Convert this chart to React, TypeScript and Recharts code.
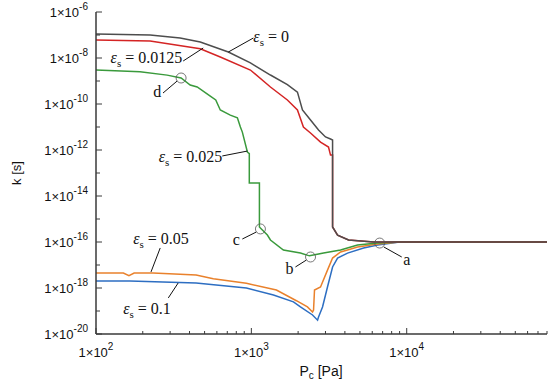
import React from "react";
import { LineChart, Line, XAxis, YAxis, ReferenceDot, ReferenceLine } from "recharts";

type Pt = [number, number];

// P_c [Pa], k [s]
const eps0: Pt[] = [
  [100, 1.1e-7], [223, 1e-7], [348, 7.4e-8], [469, 5e-8], [711, 1.82e-8],
  [986, 6.1e-9], [1327, 1.82e-9], [1706, 7e-10], [1980, 3.3e-10], [2133, 5.5e-11],
  [2404, 2e-11], [2707, 7.4e-12], [3001, 3.7e-12], [3233, 3e-12], [3333, 2.7e-12],
  [3333, 4.5e-16], [3589, 2e-16], [4224, 1.22e-16], [6125, 1e-16], [80000, 1e-16],
];

const eps0125: Pt[] = [
  [100, 6.1e-8], [223, 5.5e-8], [469, 2.5e-8], [631, 1.1e-8], [986, 3e-9],
  [1327, 5.5e-10], [1706, 1.5e-10], [1980, 5.5e-11], [2163, 1e-11], [2403, 5.5e-12],
  [2788, 2.2e-12], [3138, 1.35e-12], [3233, 6e-13], [3333, 6e-13], [3333, 4.5e-16],
  [3589, 2e-16], [4224, 1.22e-16], [6125, 1e-16], [80000, 1e-16],
];

const eps025: Pt[] = [
  [100, 3e-9], [192, 2.5e-9], [287, 1.8e-9], [353, 1.35e-9], [404, 6.7e-10],
  [448, 5.5e-10], [544, 2.2e-10], [590, 1.5e-10], [631, 5.5e-11], [732, 3.3e-11],
  [813, 2.5e-11], [850, 1e-11], [875, 6e-12], [943, 8.2e-13], [970, 7e-13],
  [970, 3.7e-14], [1127, 3.7e-14], [1127, 4.5e-16], [1160, 3.7e-16], [1268, 2e-16],
  [1327, 1.22e-16], [1608, 4.5e-17], [2070, 3.3e-17], [2367, 2.5e-17], [2916, 3.3e-17],
  [3752, 4.5e-17], [4826, 7.4e-17], [6500, 9e-17], [9000, 1e-16], [80000, 1e-16],
];

const eps05: Pt[] = [
  [100, 4.5e-18], [150, 4.5e-18], [163, 3.4e-18], [176, 4.5e-18], [233, 4.5e-18],
  [441, 3.7e-18], [569, 2.5e-18], [929, 1.6e-18], [1450, 8.2e-19], [1950, 2.8e-19],
  [2296, 1.5e-19], [2477, 9e-20], [2514, 1.1e-19], [2550, 8.2e-19], [2788, 1.1e-18],
  [3091, 6e-18], [3333, 2e-17], [3752, 3.7e-17], [4161, 4.5e-17], [4826, 6e-17],
  [6500, 8.2e-17], [9000, 1e-16], [80000, 1e-16],
];

const eps1: Pt[] = [
  [100, 2e-18], [165, 2e-18], [441, 1.65e-18], [929, 1e-18], [1388, 5e-19],
  [1866, 2.5e-19], [2070, 1.5e-19], [2477, 6.7e-20], [2668, 4e-20], [2707, 5.5e-20],
  [2872, 1.5e-19], [3091, 1.1e-18], [3333, 8.2e-18], [3589, 2e-17], [4161, 3.3e-17],
  [5279, 5.5e-17], [6500, 7.4e-17], [9000, 1e-16], [80000, 1e-16],
];

const xTicks = [
  100, 200, 300, 400, 500, 600, 700, 800, 900,
  1000, 2000, 3000, 4000, 5000, 6000, 7000, 8000, 9000,
  10000, 20000, 30000, 40000, 50000, 60000, 70000, 80000,
];
const xMajor = [100, 1000, 10000];
const yTicks = [
  1e-20, 1e-19, 1e-18, 1e-17, 1e-16, 1e-15, 1e-14, 1e-13,
  1e-12, 1e-11, 1e-10, 1e-9, 1e-8, 1e-7, 1e-6,
];

const epsLabels = [
  { x: 1030, y: 8.2e-8, anchor: "start", value: "0" },
  { x: 359, y: 1e-8, anchor: "end", value: "0.0125" },
  { x: 650, y: 5e-13, anchor: "end", value: "0.025" },
  { x: 262, y: 1.35e-16, anchor: "middle", value: "0.05" },
  { x: 213, y: 1.22e-19, anchor: "middle", value: "0.1" },
];
const pointLabels = [
  { x: 248, y: 3.3e-10, text: "d" },
  { x: 800, y: 1.22e-16, text: "c" },
  { x: 1757, y: 6.7e-18, text: "b" },
  { x: 10000, y: 1.65e-17, text: "a" },
];
const circles: Pt[] = [[353, 1.35e-9], [1144, 3.7e-16], [2404, 2.23e-17], [6700, 9e-17]];
const leaders: [Pt, Pt][] = [
  [[1030, 7.4e-8], [711, 1.82e-8]],
  [[364, 7.4e-9], [490, 2.72e-8]],
  [[270, 3e-10], [333, 1e-9]],
  [[650, 5.5e-13], [943, 9e-13]],
  [[259, 5.5e-17], [226, 5e-18]],
  [[292, 3.7e-19], [338, 1.65e-18]],
  [[875, 1.35e-16], [1077, 2.72e-16]],
  [[1922, 8.2e-18], [2264, 1.65e-17]],
  [[7114, 6.1e-17], [9290, 2.23e-17]],
];

const series = [
  { key: "0.1", pts: eps1, color: "#2d6ec2" },
  { key: "0.05", pts: eps05, color: "#e9812c" },
  { key: "0.025", pts: eps025, color: "#3a9a3c" },
  { key: "0.0125", pts: eps0125, color: "#d42424" },
  { key: "0", pts: eps0, color: "#4d4d4d" },
];

const axisColor = "#3a3a3a";
const sans = "'Liberation Sans', Arial, sans-serif";
const serif = "'Liberation Serif', 'Times New Roman', serif";

const expOf = (v: number) => Math.round(Math.log10(v));

const LeftTick = ({ x, y, payload }: any) => {
  const e = expOf(payload.value);
  const major = e % 2 === 0;
  return (
    <g>
      <line x1={x} x2={x + (major ? 6 : 4)} y1={y} y2={y} stroke={axisColor} />
      {major && (
        <text x={x - 8} y={y + 5} textAnchor="end" fontSize={13} fontFamily={sans} fill="#111">
          1×10<tspan dy={-7} fontSize={10}>{e}</tspan>
        </text>
      )}
    </g>
  );
};

const RightTick = ({ x, y, payload }: any) => {
  const major = expOf(payload.value) % 2 === 0;
  return <line x1={x} x2={x - (major ? 6 : 4)} y1={y} y2={y} stroke={axisColor} />;
};

const BottomTick = ({ x, y, payload }: any) => {
  const major = xMajor.includes(payload.value);
  return (
    <g>
      <line x1={x} x2={x} y1={y} y2={y - (major ? 6 : 3)} stroke={axisColor} />
      {major && (
        <text x={x} y={y + 23} textAnchor="middle" fontSize={13} fontFamily={sans} fill="#111">
          1×10<tspan dy={-7} fontSize={10}>{expOf(payload.value)}</tspan>
        </text>
      )}
    </g>
  );
};

const TopTick = ({ x, y, payload }: any) => {
  const major = xMajor.includes(payload.value);
  return <line x1={x} x2={x} y1={y} y2={y + (major ? 6 : 3)} stroke={axisColor} />;
};

const EpsText = ({ cx, cy, anchor, value }: any) => (
  <text x={cx} y={cy + 5} textAnchor={anchor} fontSize={16} fontFamily={serif} fill="#111">
    <tspan fontStyle="italic">ε</tspan>
    <tspan fontSize={11} dy={4}>s</tspan>
    <tspan dy={-4}>{" = " + value}</tspan>
  </text>
);

export default function App() {
  return (
    <div style={{ position: "absolute", left: 0, top: 0, background: "#fff" }}>
      <LineChart width={550} height={382} margin={{ top: 12, right: 3, bottom: 0, left: 0 }}>
        <XAxis
          dataKey="x"
          type="number"
          scale="log"
          domain={[100, 80000]}
          allowDataOverflow
          ticks={xTicks}
          interval={0}
          height={48}
          tickSize={0}
          tickMargin={0}
          tickLine={false}
          stroke={axisColor}
          strokeWidth={1.5}
          tick={<BottomTick />}
          label={{
            content: (p: any) => (
              <text x={321} y={376} textAnchor="middle" fontSize={14} fontFamily={sans} fill="#111">
                P<tspan fontSize={10} dy={3}>c</tspan>
                <tspan dy={-3}> [Pa]</tspan>
              </text>
            ),
          }}
        />
        <XAxis
          xAxisId="top"
          orientation="top"
          type="number"
          scale="log"
          domain={[100, 80000]}
          allowDataOverflow
          ticks={xTicks}
          interval={0}
          height={0}
          tickSize={0}
          tickMargin={0}
          tickLine={false}
          stroke={axisColor}
          strokeWidth={1.5}
          tick={<TopTick />}
        />
        <YAxis
          type="number"
          scale="log"
          domain={[1e-20, 1e-6]}
          allowDataOverflow
          ticks={yTicks}
          interval={0}
          width={96}
          tickSize={0}
          tickMargin={0}
          tickLine={false}
          stroke={axisColor}
          strokeWidth={1.5}
          tick={<LeftTick />}
          label={{
            content: () => (
              <text
                x={16}
                y={173}
                transform="rotate(-90 16 173)"
                textAnchor="middle"
                dominantBaseline="central"
                fontSize={13}
                fontFamily={sans}
                fill="#111"
              >
                k [s]
              </text>
            ),
          }}
        />
        <YAxis
          yAxisId="right"
          orientation="right"
          type="number"
          scale="log"
          domain={[1e-20, 1e-6]}
          allowDataOverflow
          ticks={yTicks}
          interval={0}
          width={0}
          tickSize={0}
          tickMargin={0}
          tickLine={false}
          stroke={axisColor}
          strokeWidth={1.5}
          tick={<RightTick />}
        />
        {series.map((s) => (
          <Line
            key={s.key}
            data={s.pts.map(([x, k]) => ({ x, k }))}
            dataKey="k"
            type="linear"
            stroke={s.color}
            strokeWidth={1.5}
            dot={false}
            activeDot={false}
            isAnimationActive={false}
          />
        ))}
        {leaders.map(([a, b], i) => (
          <ReferenceLine
            key={"l" + i}
            segment={[{ x: a[0], y: a[1] }, { x: b[0], y: b[1] }]}
            stroke="#111"
            strokeWidth={1}
          />
        ))}
        {circles.map(([x, y], i) => (
          <ReferenceDot key={"c" + i} x={x} y={y} r={5} fill="none" stroke="#555" strokeWidth={0.8} />
        ))}
        {epsLabels.map((l, i) => (
          <ReferenceDot
            key={"e" + i}
            x={l.x}
            y={l.y}
            r={0}
            shape={(p: any) => <EpsText cx={p.cx} cy={p.cy} anchor={l.anchor} value={l.value} />}
          />
        ))}
        {pointLabels.map((l, i) => (
          <ReferenceDot
            key={"p" + i}
            x={l.x}
            y={l.y}
            r={0}
            shape={(p: any) => (
              <text x={p.cx} y={p.cy + 5} textAnchor="middle" fontSize={16} fontFamily={serif} fill="#111">
                {l.text}
              </text>
            )}
          />
        ))}
      </LineChart>
    </div>
  );
}
